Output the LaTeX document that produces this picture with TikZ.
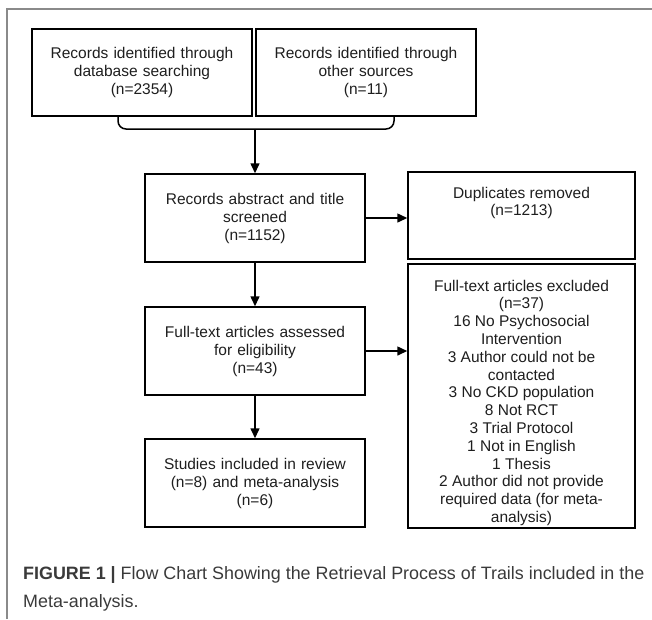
\documentclass[tikz,border=0pt]{standalone}
\usepackage{fontspec}
\setmainfont{Liberation Sans}
\usepackage{tikz}
\usetikzlibrary{positioning}
\usetikzlibrary{arrows.meta}
\usepackage{xcolor}
\definecolor{framegray}{HTML}{8A8A8A}
\definecolor{boxtext}{HTML}{1E1E1E}
\definecolor{captext}{HTML}{3A3A3A}

\begin{document}
\begin{tikzpicture}
[x=1pt, y=-1pt,
% The box style is used to draw the steps of the retrieval
box/.style={rectangle, draw, line width=1.5pt, inner sep=4pt, minimum width=220pt, minimum height=88pt, text width=212pt, align=center, text=boxtext, font=\fontsize{15.5}{18}\selectfont},
% The side style is used to draw the records left out
side/.style={rectangle, draw, line width=1.5pt, inner sep=0pt, text=boxtext, font=\fontsize{15.5}{17.8}\selectfont},
% The flow style is used to draw the arrows between the steps
flow/.style={line width=1.5pt, -{Triangle[length=10pt,width=9pt]}},
caption/.style={inner sep=0pt, align=left, text=captext, font=\fontsize{17.9}{28}\selectfont}
]
\useasboundingbox (0,0) rectangle (652,619);
\draw[framegray, line width=1.5pt] (7,619) -- (7,9) -- (652,9);
% Draw steps
\node (dbase) [box, minimum height=87pt] at (142,72.5) {Records identified through\\database searching\\(n=2354)};
\node (other) [box, minimum height=87pt] at (366,72.5) {Records identified through\\other sources\\(n=11)};
\node (screen) [box] at (255,218) {Records abstract and title\\screened\\(n=1152)};
\node (assess) [box] at (255,351) {Full-text articles assessed\\for eligibility\\(n=43)};
\node (incl) [box] at (255,483) {Studies included in review\\(n=8) and meta-analysis\\(n=6)};
\node (dup) [side] at (521.5,215.5) {\parbox[c][87pt][t]{227pt}{\centering\rule{0pt}{26pt}Duplicates removed\\(n=1213)}};
\node (excl) [side] at (521.5,396) {\parbox[c][264pt][t]{227pt}{\centering\rule{0pt}{27pt}Full-text articles excluded\\(n=37)\\16 No Psychosocial\\Intervention\\3 Author could not be\\contacted\\3 No CKD population\\8 Not RCT\\3 Trial Protocol\\1 Not in English\\1 Thesis\\2 Author did not provide\\required data (for meta-\\analysis)}};
% Draw arrows
\coordinate (join) at (255,129);
\draw[line width=1.5pt, rounded corners=8pt] ([xshift=-24pt]dbase.south) |- (join) -| ([xshift=28pt]other.south);
\draw[flow] (join) -- (screen);
\draw[flow] (screen.east) -- (screen.east -| dup.west);
\draw[flow] (screen) -- (assess);
\draw[flow] (assess.east) -- (assess.east -| excl.west);
\draw[flow] (assess) -- (incl);
% Caption
\node (cap) [caption, anchor=north west] at (23,566) {\textbf{FIGURE 1 |} Flow Chart Showing the Retrieval Process of Trails included in the\\Meta-analysis.};
\end{tikzpicture}
\end{document}
